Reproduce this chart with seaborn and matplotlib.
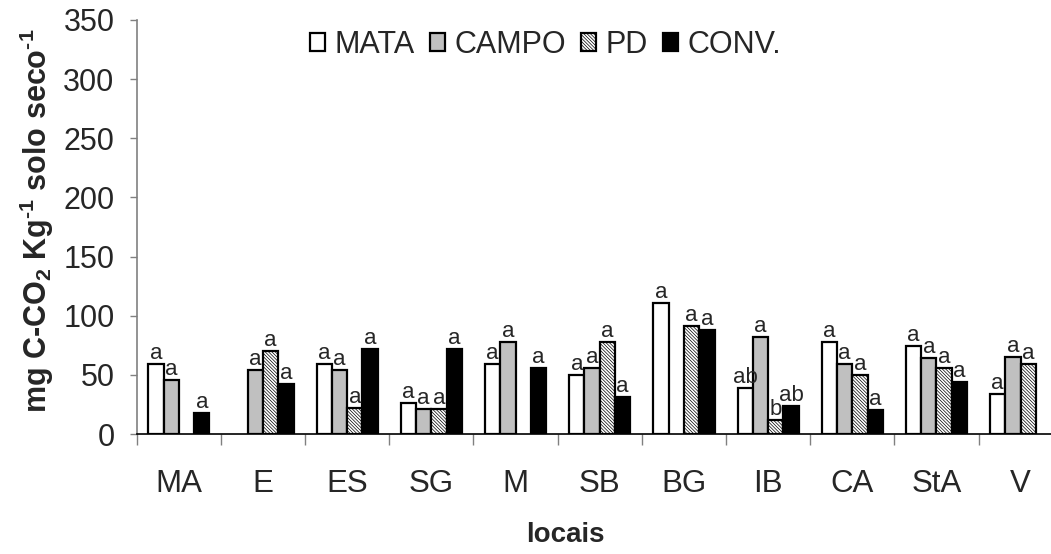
import numpy as np
import pandas as pd
import matplotlib
matplotlib.use("Agg")
import matplotlib.pyplot as plt
import seaborn as sns

# ---- data ----
locais = ["MA", "E", "ES", "SG", "M", "SB", "BG", "IB", "CA", "StA", "V"]
series = ["MATA", "CAMPO", "PD", "CONV."]
mata  = [59, np.nan, 59, 26, 59, 50, 111, 39, 78, 74, 34]
campo = [46, 54, 54, 21, 78, 56, np.nan, 82, 59, 64, 65]
pd_   = [np.nan, 70, 22, 21, np.nan, 78, 91, 12, 50, 56, 59]
conv  = [18, 42, 72, 72, 56, 31, 88, 24, 20, 44, np.nan]
lab_mata  = ["a", "", "a", "a", "a", "a", "a", "ab", "a", "a", "a"]
lab_campo = ["a", "a", "a", "a", "a", "a", "", "a", "a", "a", "a"]
lab_pd    = ["", "a", "a", "a", "", "a", "a", "b", "a", "a", "a"]
lab_conv  = ["a", "a", "a", "a", "a", "a", "a", "ab", "a", "a", ""]

values = {"MATA": mata, "CAMPO": campo, "PD": pd_, "CONV.": conv}
letters = {"MATA": lab_mata, "CAMPO": lab_campo, "PD": lab_pd, "CONV.": lab_conv}

rows = []
for s in series:
    for loc, v in zip(locais, values[s]):
        if not np.isnan(v):
            rows.append({"local": loc, "serie": s, "valor": v})
df = pd.DataFrame(rows)

sns.set_theme(style="white")
plt.rcParams["font.family"] = ["Liberation Sans", "DejaVu Sans"]
plt.rcParams["mathtext.fontset"] = "custom"
plt.rcParams["mathtext.rm"] = "Liberation Sans"
plt.rcParams["mathtext.bf"] = "Liberation Sans:bold"
plt.rcParams["hatch.linewidth"] = 0.5
plt.rcParams["hatch.color"] = "black"

fig = plt.figure(figsize=(10.51, 5.54), dpi=100)
ax = fig.add_axes([0.1301, 0.2166, 0.8811, 0.7473])

face = {"MATA": "white", "CAMPO": "#c0c0c0", "PD": "white", "CONV.": "black"}
sns.barplot(data=df, x="local", y="valor", hue="serie", order=locais,
            hue_order=series, width=0.727, gap=0, legend=False, ax=ax,
            errorbar=None, palette=face, saturation=1)

for cont, s in zip(ax.containers, series):
    labs = []
    for p in cont.patches:
        p.set_edgecolor("black")
        p.set_linewidth(1.6)
        p.set_facecolor(face[s])
        if s == "PD":
            p.set_hatch("\\" * 10)
        idx = int(round(p.get_x() + p.get_width() / 2))
        labs.append(letters[s][idx])
    cont.set_label(s)
    ax.bar_label(cont, labels=labs, padding=0, fontsize=16)

ax.set_xlim(-0.5, 10.5)
ax.set_ylim(0, 350)
ax.set_yticks(np.arange(0, 351, 50))
ax.tick_params(axis="y", which="major", left=True, length=5, width=1,
               color="#808080", labelsize=22, pad=11)
ax.set_xticks(range(len(locais)))
ax.set_xticks(np.arange(-0.5, 10.0, 1.0), minor=True)
ax.tick_params(axis="x", which="major", length=0, labelsize=22.5, pad=25)
ax.tick_params(axis="x", which="minor", bottom=True, length=8, width=1,
               color="#808080")
for sp in ["top", "right"]:
    ax.spines[sp].set_visible(False)
ax.spines["left"].set_color("#808080")
ax.spines["left"].set_linewidth(1.2)
ax.spines["bottom"].set_color("black")
ax.spines["bottom"].set_linewidth(1.2)

ax.set_ylabel("mg C-CO$_\\mathbf{2}$ Kg$^\\mathbf{\u2010 1}$ solo seco$^\\mathbf{\u2010 1}$",
              fontsize=22, fontweight="bold")
ax.yaxis.label.set_va("center")
ax.yaxis.set_label_coords(-0.1077, 0.515)
ax.set_xlabel("locais", fontsize=20, fontweight="bold")
ax.xaxis.label.set_va("center")
ax.xaxis.set_label_coords(0.4625, -0.244)

ax.legend(handles=ax.containers, labels=series, loc="center",
          bbox_to_anchor=(0.4415, 0.9396), ncol=4, frameon=False,
          fontsize=22, handlelength=0.5, handleheight=0.5,
          handletextpad=0.3, columnspacing=0.5, borderpad=0)

fig.savefig("out.png", dpi=100)
